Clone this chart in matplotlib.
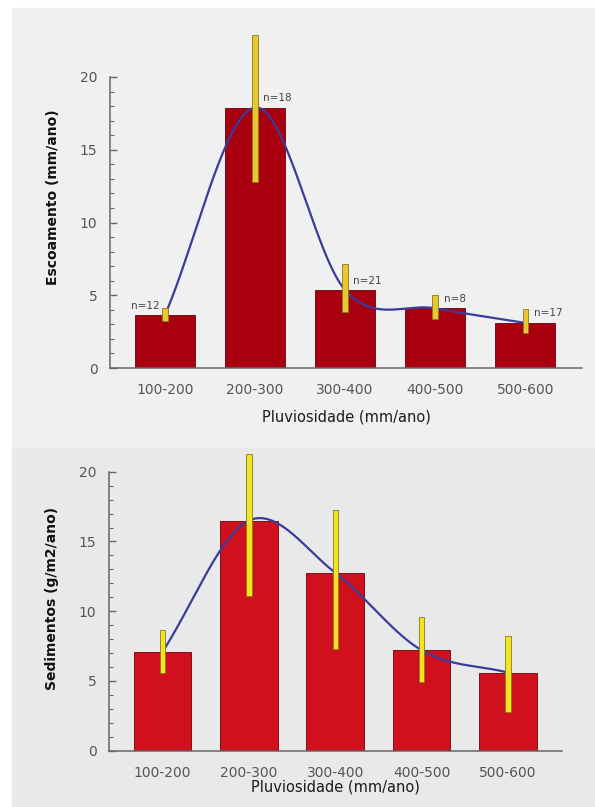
import numpy as np
import matplotlib
matplotlib.use('Agg')
from matplotlib import pyplot as plt
from matplotlib.patches import Rectangle
from matplotlib.ticker import FixedLocator

categories = ['100-200', '200-300', '300-400', '400-500', '500-600']

# top panel: runoff
escoamento = [3.64, 17.9, 5.36, 4.1, 3.1]
escoamento_lo = [3.2, 12.8, 3.85, 3.4, 2.4]
escoamento_hi = [4.1, 22.9, 7.15, 5.0, 4.05]
n_obs = [12, 18, 21, 8, 17]

# bottom panel: sediments
sedimentos = [7.1, 16.5, 12.76, 7.2, 5.6]
sedimentos_lo = [5.55, 11.1, 7.3, 4.95, 2.8]
sedimentos_hi = [8.65, 21.3, 17.25, 9.56, 8.25]


def smooth_curve(y, per_seg=60):
    # cardinal (Catmull-Rom) spline through the bar tops
    y = np.asarray(y, float)
    n = len(y)
    m = np.empty(n)
    m[1:-1] = (y[2:] - y[:-2]) / 2
    m[0] = y[1] - y[0]
    m[-1] = y[-1] - y[-2]
    xs, ys = [], []
    for i in range(n - 1):
        t = np.linspace(0, 1, per_seg, endpoint=(i == n - 2))
        h00 = 2 * t ** 3 - 3 * t ** 2 + 1
        h10 = t ** 3 - 2 * t ** 2 + t
        h01 = -2 * t ** 3 + 3 * t ** 2
        h11 = t ** 3 - t ** 2
        xs.append(i + t)
        ys.append(h00 * y[i] + h10 * m[i] + h01 * y[i + 1] + h11 * m[i + 1])
    return np.concatenate(xs), np.concatenate(ys)


def draw_panel(ax, values, lo, hi, bar_color, err_color, ylabel, ymax):
    x = np.arange(len(categories))
    ax.bar(x, values, width=0.667, color=bar_color, edgecolor='#6a0008',
           linewidth=0.6, zorder=2)
    cx, cy = smooth_curve(values)
    ax.plot(cx, cy, color='#3a3c9c', lw=1.6, zorder=3)
    lo = np.array(lo)
    hi = np.array(hi)
    ax.bar(x, hi - lo, bottom=lo, width=0.06, color=err_color,
           edgecolor='#8a7a1a', linewidth=0.6, zorder=4, clip_on=False)
    ax.set_xlim(-0.61, len(categories) - 1 + 0.63)
    ax.set_ylim(0, ymax)
    ax.set_xticks(x)
    ax.set_xticklabels(categories)
    ax.set_yticks([0, 5, 10, 15, 20])
    ax.yaxis.set_minor_locator(FixedLocator(np.arange(0, 21)))
    ax.tick_params(axis='x', length=0, pad=11, labelsize=10, colors='#555555')
    ax.tick_params(axis='y', which='major', direction='in', length=5,
                   width=1, pad=9, labelsize=10, colors='#666666',
                   labelcolor='#555555')
    ax.tick_params(axis='y', which='minor', direction='in', length=3,
                   width=0.8, colors='#666666')
    for s in ['top', 'right']:
        ax.spines[s].set_visible(False)
    ax.spines['left'].set_bounds(0, 20)
    ax.spines['left'].set_color('#666666')
    ax.spines['bottom'].set_color('#666666')
    ax.spines['left'].set_linewidth(1.1)
    ax.spines['bottom'].set_linewidth(1.1)
    ax.set_facecolor('none')
    ax.set_ylabel(ylabel, fontsize=10, fontweight='bold', color='#111111',
                  labelpad=14)
    ax.set_xlabel('Pluviosidade (mm/ano)', fontsize=10.5, color='#1a1a1a')


fig = plt.figure(figsize=(5.95, 8.07), dpi=100)
fig.patches.append(Rectangle((12 / 595, 1 - 448 / 807), 1, 440 / 807,
                             transform=fig.transFigure, color='#f0f0f0',
                             zorder=-10))
fig.patches.append(Rectangle((12 / 595, 0), 1, 1 - 448 / 807,
                             transform=fig.transFigure, color='#e9e9e9',
                             zorder=-10))

ax1 = fig.add_axes([110 / 595, 1 - 368 / 807, 472 / 595, 23.5 * 14.55 / 807])
draw_panel(ax1, escoamento, escoamento_lo, escoamento_hi, '#a8000e',
           '#e8c832', 'Escoamento (mm/ano)', 23.5)
ax1.xaxis.labelpad = 9

for i, n in enumerate(n_obs):
    if i == 0:
        ax1.annotate('n=%d' % n, (i, escoamento[i] + 0.6), xytext=(-4, 0),
                     textcoords='offset points', ha='right', va='center',
                     fontsize=7.5, color='#444444')
    else:
        ax1.annotate('n=%d' % n, (i, escoamento[i] + 0.65), xytext=(6, 0),
                     textcoords='offset points', ha='left', va='center',
                     fontsize=7.5, color='#444444')

ax2 = fig.add_axes([109 / 595, 1 - 750.7 / 807, 453 / 595, 21.8 * 13.95 / 807])
draw_panel(ax2, sedimentos, sedimentos_lo, sedimentos_hi, '#d0101c',
           '#f2e424', 'Sedimentos (g/m2/ano)', 21.8)
ax2.set_xlim(-0.62, 4.625)
ax2.xaxis.labelpad = 0

fig.savefig('out.png', dpi=100)
